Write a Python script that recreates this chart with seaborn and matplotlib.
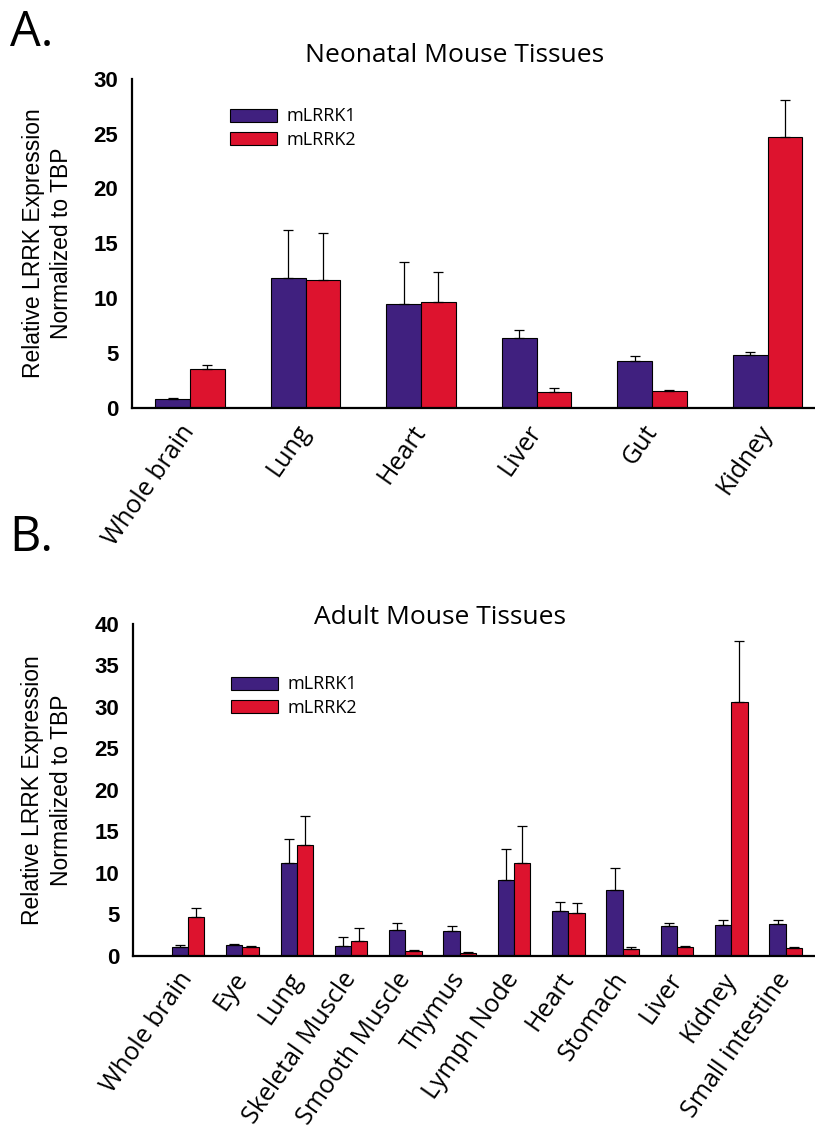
"""
LRRK1 / LRRK2 expression in neonatal and adult mouse tissues (qPCR, normalized to TBP).
"""
import numpy as np
import pandas as pd
import matplotlib
matplotlib.use("Agg")
import matplotlib.pyplot as plt
import seaborn as sns

# ---- data ----
neo_tissues = ["Whole brain", "Lung", "Heart", "Liver", "Gut", "Kidney"]
neo_lrrk1 = [0.76, 11.79, 9.42, 6.38, 4.26, 4.80]
neo_lrrk1_err = [0.12, 4.44, 3.83, 0.67, 0.48, 0.28]
neo_lrrk2 = [3.53, 11.61, 9.64, 1.40, 1.49, 24.68]
neo_lrrk2_err = [0.33, 4.29, 2.76, 0.36, 0.12, 3.42]

adult_tissues = ["Whole brain", "Eye", "Lung", "Skeletal Muscle", "Smooth Muscle",
                 "Thymus", "Lymph Node", "Heart", "Stomach", "Liver", "Kidney",
                 "Small intestine"]
adult_lrrk1 = [1.00, 1.24, 11.20, 1.20, 3.13, 2.97, 9.16, 5.38, 7.91, 3.53, 3.69, 3.82]
adult_lrrk1_err = [0.29, 0.17, 2.86, 1.01, 0.81, 0.64, 3.65, 1.09, 2.69, 0.37, 0.61, 0.48]
adult_lrrk2 = [4.62, 1.04, 13.37, 1.73, 0.52, 0.32, 11.16, 5.18, 0.80, 1.00, 30.56, 0.92]
adult_lrrk2_err = [1.12, 0.12, 3.42, 1.56, 0.16, 0.08, 4.42, 1.17, 0.20, 0.20, 7.34, 0.12]

genes = ["mLRRK1", "mLRRK2"]
palette = {"mLRRK1": "#40207f", "mLRRK2": "#dd132e"}

LABEL_FONT = ["Open Sans", "DejaVu Sans"]
ARIAL = ["Liberation Sans", "DejaVu Sans"]


def to_long(tissues, v1, e1, v2, e2):
    """Build a long table for seaborn."""
    rows = []
    for gene, vals, errs in zip(genes, [v1, v2], [e1, e2]):
        for t, v, e in zip(tissues, vals, errs):
            rows.append({"tissue": t, "gene": gene, "value": v, "err": e})
    return pd.DataFrame(rows)


def draw_panel(ax, df, tissues, ymax, xlim, label_x, legend_y):
    sns.barplot(data=df, x="tissue", y="value", hue="gene", order=tissues,
                hue_order=genes, palette=palette, width=0.6, gap=0,
                errorbar=None, edgecolor="black", linewidth=0.8,
                saturation=1, ax=ax)

    # upper-only error bars at the bar centres
    for gene, cont in zip(genes, ax.containers):
        sub = df[df["gene"] == gene].set_index("tissue").loc[tissues]
        xs = [b.get_x() + b.get_width() / 2 for b in cont]
        errs = sub["err"].to_numpy()
        ax.errorbar(xs, sub["value"].to_numpy(),
                    yerr=[np.zeros_like(errs), errs], fmt="none",
                    ecolor="black", elinewidth=0.9, capsize=3.5,
                    capthick=0.9, zorder=1)

    ax.set_ylim(0, ymax)
    ax.set_xlim(*xlim)
    ax.set_yticks(np.arange(0, ymax + 1, 5))
    ax.set_xlabel("")
    ax.set_ylabel("Relative LRRK Expression\nNormalized to TBP",
                  fontsize=16.5, family=ARIAL, linespacing=1.3, color="black")
    ax.yaxis.set_label_coords(label_x, 0.5)
    for lab in ax.get_yticklabels():
        lab.set_family(ARIAL)
        lab.set_fontweight("bold")
        lab.set_fontsize(16)
    ax.set_xticks(range(len(tissues)))
    ax.set_xticklabels(tissues, rotation=55, ha="right", va="center",
                       rotation_mode="anchor", family=LABEL_FONT, fontsize=18)
    ax.tick_params(axis="both", direction="out", length=6, width=2.5,
                   color="black", labelcolor="black", pad=4)
    ax.tick_params(axis="x", pad=8)
    sns.despine(ax=ax)
    for sp in ["left", "bottom"]:
        ax.spines[sp].set_linewidth(1.6)
        ax.spines[sp].set_color("black")

    handles, labels = ax.get_legend_handles_labels()
    ax.legend(handles, labels, loc="upper left", bbox_to_anchor=(0.13, legend_y),
              frameon=False, prop={"family": LABEL_FONT, "size": 13},
              handlelength=2.6, handleheight=0.72, handletextpad=0.55,
              labelspacing=0.3, borderpad=0, labelcolor="black")


sns.set_theme(style="white")
plt.rcParams["font.family"] = LABEL_FONT
plt.rcParams["text.color"] = "black"

fig = plt.figure(figsize=(8.15, 11.37), dpi=100)

# panel A
ax_a = fig.add_axes([132.3 / 815, 1 - 407.7 / 1137, 682.7 / 815, 329.0 / 1137])
neo_df = to_long(neo_tissues, neo_lrrk1, neo_lrrk1_err, neo_lrrk2, neo_lrrk2_err)
draw_panel(ax_a, neo_df, neo_tissues, 30, (-0.5, 5.41), -0.087, 0.94)

# panel B
ax_b = fig.add_axes([133.3 / 815, 1 - 955.5 / 1137, 681.7 / 815, 331.5 / 1137])
adult_df = to_long(adult_tissues, adult_lrrk1, adult_lrrk1_err,
                   adult_lrrk2, adult_lrrk2_err)
draw_panel(ax_b, adult_df, adult_tissues, 40, (-1.01, 11.54), -0.089, 0.872)

# titles and panel letters
fig.text(455 / 815, 1 - 55 / 1137, "Neonatal Mouse Tissues", ha="center",
         va="center", fontsize=19, family=LABEL_FONT)
fig.text(440 / 815, 1 - 617 / 1137, "Adult Mouse Tissues", ha="center",
         va="center", fontsize=19, family=LABEL_FONT)
fig.text(10 / 815, 1 - 33 / 1137, "A.", ha="left", va="center",
         fontsize=35, family=LABEL_FONT)
fig.text(9 / 815, 1 - 538 / 1137, "B.", ha="left", va="center",
         fontsize=35, family=LABEL_FONT)

fig.savefig("out.png", dpi=100)
plt.close(fig)
